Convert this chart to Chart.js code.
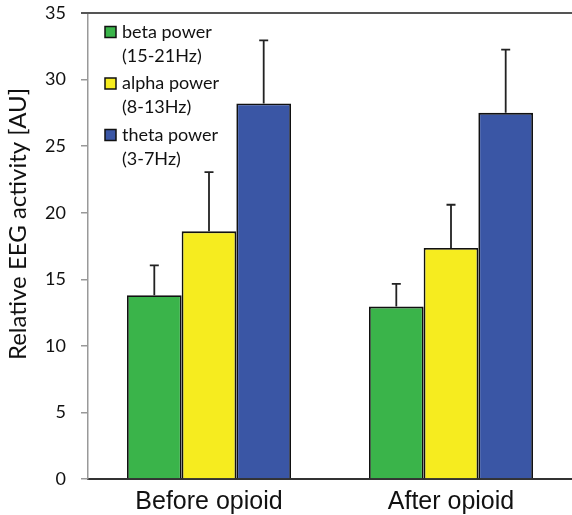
<!DOCTYPE html>
<html>
<head>
<meta charset="utf-8">
<style>
  html, body { margin: 0; padding: 0; background: #fff; }
  #wrap { width: 572px; height: 515px; position: relative; }
</style>
<script src="https://cdn.jsdelivr.net/npm/chart.js@4/dist/chart.umd.min.js"></script>
</head>
<body>
<div id="wrap"><canvas id="c" width="572" height="515"></canvas></div>
<script>
// Relative EEG band power before and after opioid administration (mean + SD)
const categories = ['Before opioid', 'After opioid'];
const betaValues  = [13.8, 12.95];
const betaErrors  = [2.25, 1.7];
const alphaValues = [18.6, 17.35];
const alphaErrors = [4.45, 3.25];
const thetaValues = [28.2, 27.5];
const thetaErrors = [4.75, 4.75];
const yTicks = [0, 5, 10, 15, 20, 25, 30, 35];
const yTitle = 'Relative EEG activity [AU]';

const bandLabels = [
  ['beta power', '(15-21Hz)'],
  ['alpha power', '(8-13Hz)'],
  ['theta power', '(3-7Hz)']
];

const colors = ['#3AB44A', '#F6EC1F', '#3A56A5'];

// Upward-only error bars with a small cap
const errorBars = {
  id: 'errorBars',
  afterDatasetsDraw(chart) {
    const { ctx } = chart;
    const y = chart.scales.y;
    chart.data.datasets.forEach((ds, di) => {
      const meta = chart.getDatasetMeta(di);
      meta.data.forEach((bar, i) => {
        const top = y.getPixelForValue(ds.data[i] + ds.errors[i]);
        ctx.save();
        ctx.strokeStyle = '#222';
        ctx.lineWidth = 1.8;
        ctx.beginPath();
        ctx.moveTo(bar.x, bar.y);
        ctx.lineTo(bar.x, top);
        ctx.moveTo(bar.x - 4.5, top);
        ctx.lineTo(bar.x + 4.5, top);
        ctx.stroke();
        ctx.restore();
      });
    });
  }
};

// Top frame line and rotated axis title
const frame = {
  id: 'frame',
  afterDraw(chart) {
    const { ctx, chartArea } = chart;
    ctx.save();
    ctx.strokeStyle = '#555';
    ctx.lineWidth = 2;
    ctx.beginPath();
    ctx.moveTo(chartArea.left - 7, chartArea.top);
    ctx.lineTo(chartArea.right, chartArea.top);
    ctx.stroke();

    ctx.translate(18, 224);
    ctx.rotate(-Math.PI / 2);
    ctx.fillStyle = '#111';
    ctx.font = '24px Lato';
    ctx.textAlign = 'center';
    ctx.textBaseline = 'middle';
    ctx.fillText(yTitle, 0, 0);
    ctx.restore();
  }
};

// Two-line legend boxes inside the plot area
const bandLegend = {
  id: 'bandLegend',
  afterDraw(chart) {
    const { ctx } = chart;
    ctx.save();
    ctx.font = '18px Lato';
    ctx.textBaseline = 'middle';
    ctx.textAlign = 'left';
    chart.data.datasets.forEach((ds, i) => {
      const cy = 32 + i * 51.5;
      ctx.fillStyle = ds.backgroundColor;
      ctx.fillRect(105, cy - 5.5, 11, 11);
      ctx.strokeStyle = '#111';
      ctx.lineWidth = 1.5;
      ctx.strokeRect(105, cy - 5.5, 11, 11);
      ctx.fillStyle = '#111';
      ds.labelLines.forEach((line, k) => {
        ctx.fillText(line, 122, cy + k * 24);
      });
    });
    ctx.restore();
  }
};

const makeSet = (lines, values, errors, color) => ({
  label: lines.join(' '),
  labelLines: lines,
  data: values,
  errors: errors,
  backgroundColor: color,
  borderColor: '#111',
  borderWidth: 1.8,
  borderSkipped: 'bottom',
  categoryPercentage: 0.678,
  barPercentage: 1.0
});

new Chart(document.getElementById('c'), {
  type: 'bar',
  data: {
    labels: categories,
    datasets: [
      makeSet(bandLabels[0], betaValues, betaErrors, colors[0]),
      makeSet(bandLabels[1], alphaValues, alphaErrors, colors[1]),
      makeSet(bandLabels[2], thetaValues, thetaErrors, colors[2])
    ]
  },
  options: {
    responsive: false,
    animation: false,
    devicePixelRatio: 1,
    layout: { padding: { top: 13, right: 0, left: 0, bottom: 0 } },
    plugins: {
      legend: { display: false },
      tooltip: { enabled: false }
    },
    scales: {
      x: {
        grid: { display: false },
        border: { display: true, color: '#333', width: 2 },
        ticks: {
          color: '#111',
          font: { family: 'Liberation Sans', size: 25 },
          padding: 0
        },
        afterFit(scale) {
          scale.height = 36;
          scale.paddingLeft = 0;
          scale.paddingRight = 0;
        }
      },
      y: {
        min: 0,
        max: 35,
        afterBuildTicks(scale) { scale.ticks = yTicks.map(v => ({ value: v })); },
        grid: {
          display: true,
          drawOnChartArea: false,
          drawTicks: true,
          tickLength: 7,
          color: '#999',
          lineWidth: 1.5
        },
        border: { display: true, color: '#999', width: 1.5 },
        ticks: {
          color: '#111',
          font: { family: 'Lato', size: 18 },
          padding: 15
        },
        afterFit(scale) {
          scale.width = 88;
          scale.paddingTop = 0;
          scale.paddingBottom = 0;
        }
      }
    }
  },
  plugins: [errorBars, frame, bandLegend]
});
</script>
</body>
</html>
